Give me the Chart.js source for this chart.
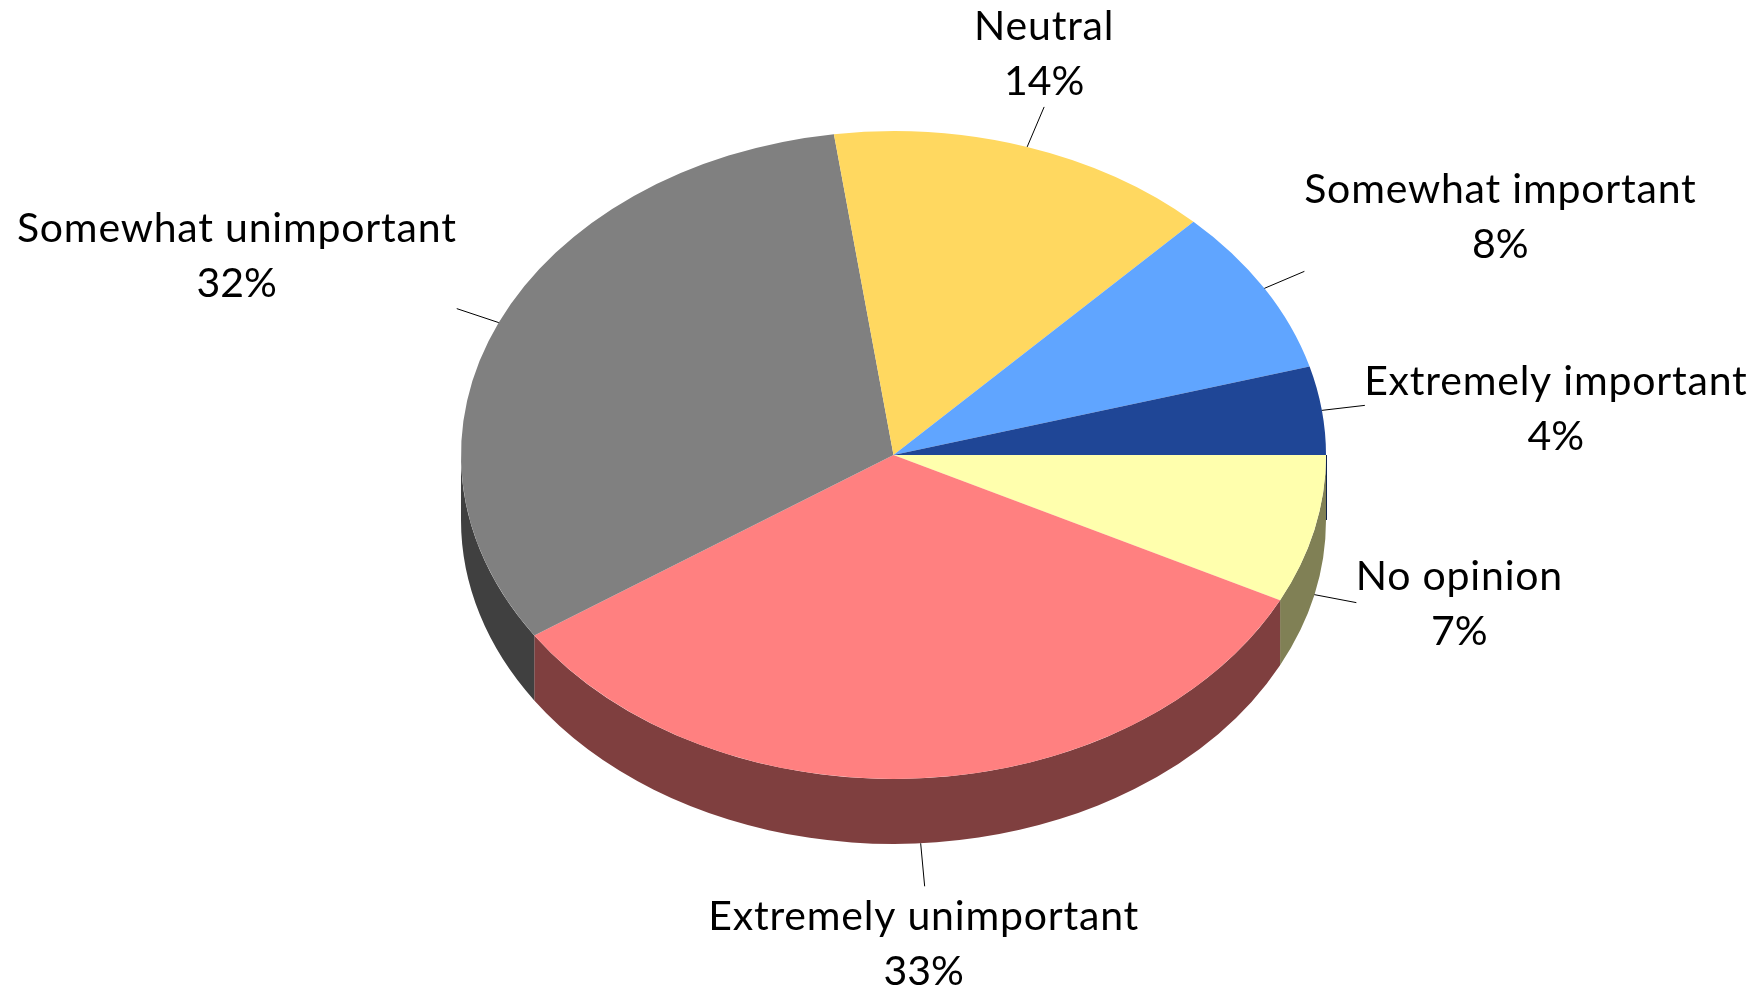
<!DOCTYPE html>
<html>
<head>
<meta charset="utf-8">
<style>html,body{margin:0;padding:0;background:#fff}canvas{display:block}</style>
<script src="https://cdn.jsdelivr.net/npm/chart.js@4"></script>
</head>
<body>
<canvas id="c" width="1761" height="988"></canvas>
<script>
// Clockwise from 3 o'clock, as Chart.js lays slices out
const categories = ["No opinion","Extremely unimportant","Somewhat unimportant","Neutral","Somewhat important","Extremely important"];
const shares = [7.4,33.2,32.2,14.4,8.4,4.4];
const topColors = ["#FFFFAD","#FF8080","#808080","#FFD860","#60A5FF","#1F4696"];
const wallColors = ["#808055","#7F3F3F","#404040","#806C30","#305380","#10234B"];
const leaderDeltas = [[42,8],[4,43],[-42,-14],[17,-40],[40,-17],[43,-5]];
const textDeltas = [[145,-5],[3,87],[-262,-81],[17,-107],[236,-85],[234,-15]];

const tilt = 0.749, depth = 65, lineGap = 55;
const labelFont = '41px Lato, "Open Sans", sans-serif';

const pie3d = {
  id: 'pie3d',
  beforeDatasetsDraw(chart) {
    const ctx = chart.ctx, arcs = chart.getDatasetMeta(0).data;
    const {x: cx, y: cy, outerRadius: r} = arcs[0];
    ctx.save();
    arcs.forEach((a, i) => {
      const s = Math.max(a.startAngle, 0), e = Math.min(a.endAngle, Math.PI);
      if (e <= s) return;
      ctx.beginPath();
      ctx.ellipse(cx, cy, r, r * tilt, 0, s, e, false);
      ctx.ellipse(cx, cy + depth, r, r * tilt, 0, e, s, true);
      ctx.closePath();
      ctx.fillStyle = wallColors[i];
      ctx.fill();
    });
    // dark rim at the first slice edge, behind the first wall
    const last = arcs.length - 1;
    ctx.strokeStyle = wallColors[last];
    ctx.lineWidth = 1;
    ctx.beginPath();
    ctx.moveTo(cx + r + 0.5, cy);
    ctx.lineTo(cx + r + 0.5, cy + depth);
    ctx.stroke();
    ctx.restore();
    ctx.save();
    ctx.translate(0, cy);
    ctx.scale(1, tilt);
    ctx.translate(0, -cy);
  },
  afterDatasetsDraw(chart) {
    const ctx = chart.ctx, arcs = chart.getDatasetMeta(0).data;
    ctx.restore();
    ctx.save();
    ctx.font = labelFont;
    ctx.fillStyle = '#000';
    ctx.textAlign = 'center';
    ctx.textBaseline = 'alphabetic';
    const total = shares.reduce((p, v) => p + v, 0);
    arcs.forEach((a, i) => {
      const mid = (a.startAngle + a.endAngle) / 2;
      const sx = a.x + a.outerRadius * Math.cos(mid);
      let sy = a.y + a.outerRadius * tilt * Math.sin(mid);
      if (Math.sin(mid) > 0) sy += depth;
      const [lx, ly] = leaderDeltas[i], [tx, ty] = textDeltas[i];
      ctx.strokeStyle = '#000';
      ctx.lineWidth = 1;
      ctx.beginPath();
      ctx.moveTo(sx, sy);
      ctx.lineTo(sx + lx, sy + ly);
      ctx.stroke();
      ctx.letterSpacing = '0.8px';
      ctx.fillText(categories[i], sx + tx, sy + ty);
      ctx.letterSpacing = '0px';
      ctx.fillText(Math.round(shares[i] / total * 100) + '%', sx + tx, sy + ty + lineGap);
    });
    ctx.restore();
  }
};

new Chart(document.getElementById('c'), {
  type: 'pie',
  data: {
    labels: categories,
    datasets: [{ data: shares, backgroundColor: topColors, borderWidth: 0, hoverOffset: 0 }]
  },
  options: {
    responsive: false,
    animation: false,
    rotation: 90,
    layout: { padding: { left: 461, right: 435, top: 22.5, bottom: 100.5 } },
    plugins: { legend: { display: false }, tooltip: { enabled: false } },
    events: []
  },
  plugins: [pie3d]
});
</script>
</body>
</html>
